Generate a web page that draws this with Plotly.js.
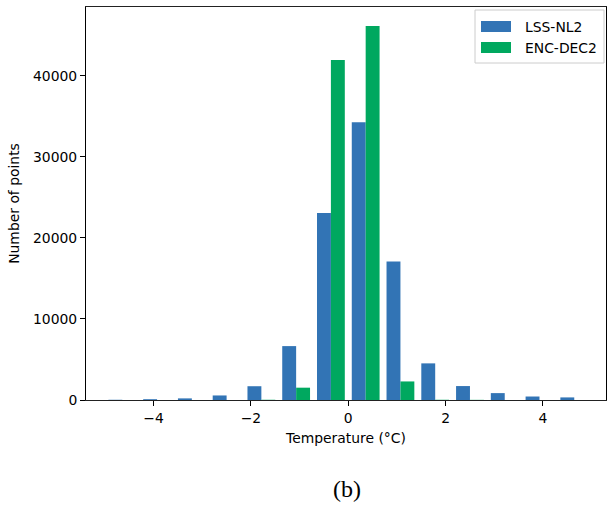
<!DOCTYPE html>
<html>
<head>
<meta charset="utf-8">
<script src="https://cdn.plot.ly/plotly-3.0.1.min.js"></script>
<style>html,body{margin:0;padding:0;background:#fff;}#chart{width:608px;height:507px;}</style>
</head>
<body>
<div id="chart"></div>
<script>
// Histogram bins: 14 equal bins from -5 to 5
var binEdges = [-5, -4.2857, -3.5714, -2.8571, -2.1429, -1.4286, -0.7143, 0, 0.7143, 1.4286, 2.1429, 2.8571, 3.5714, 4.2857, 5];
var seriesNames = ["LSS-NL2", "ENC-DEC2"];
var lssNL2 = [30, 100, 200, 560, 1700, 6650, 23080, 34280, 17100, 4520, 1720, 850, 430, 320];
var encDEC2 = [0, 0, 0, 0, 30, 1520, 41940, 46140, 2290, 30, 20, 0, 0, 0];
var xTicks = [-4, -2, 0, 2, 4];
var yTicks = [0, 10000, 20000, 30000, 40000];
var colors = ["#3274b5", "#00a85f"];

var binCenters = [];
for (var i = 0; i < binEdges.length - 1; i++) binCenters.push((binEdges[i] + binEdges[i + 1]) / 2);

var font = {family: "DejaVu Sans", size: 13.9, color: "#000"};

var traces = [
  {type: "bar", x: binCenters, y: lssNL2, name: seriesNames[0], marker: {color: colors[0], line: {width: 0}}, showlegend: false},
  {type: "bar", x: binCenters, y: encDEC2, name: seriesNames[1], marker: {color: colors[1], line: {width: 0}}, showlegend: false}
];

var L = 86, R = 606, T = 7, B = 400;
function px(x) { return (x - L) / (R - L); }
function py(y) { return (B - y) / (B - T); }

var shapes = [
  {type: "rect", xref: "paper", yref: "paper", x0: px(475), x1: px(604), y0: py(63), y1: py(10),
   line: {color: "#cccccc", width: 1}, fillcolor: "rgba(255,255,255,0.8)"},
  {type: "rect", xref: "paper", yref: "paper", x0: px(481), x1: px(511), y0: py(32), y1: py(21),
   line: {width: 0}, fillcolor: colors[0]},
  {type: "rect", xref: "paper", yref: "paper", x0: px(481), x1: px(511), y0: py(53), y1: py(42),
   line: {width: 0}, fillcolor: colors[1]}
];

var annotations = [
  {xref: "paper", yref: "paper", x: px(523), y: py(27), xanchor: "left", yanchor: "middle", text: seriesNames[0], showarrow: false, font: font},
  {xref: "paper", yref: "paper", x: px(523), y: py(48), xanchor: "left", yanchor: "middle", text: seriesNames[1], showarrow: false, font: font},
  {xref: "paper", yref: "paper", x: px(347), y: py(489), xanchor: "center", yanchor: "middle", text: "(b)", showarrow: false,
   font: {family: "Liberation Serif", size: 24, color: "#000"}}
];

var layout = {
  width: 608, height: 507,
  margin: {l: L, r: 608 - R, t: T, b: 507 - B, pad: 0},
  paper_bgcolor: "#fff", plot_bgcolor: "#fff",
  font: font,
  barmode: "group", bargap: 0.2, bargroupgap: 0,
  showlegend: false,
  xaxis: {
    range: [-5.389, 5.295], tickvals: xTicks, ticks: "outside", ticklen: 5, tickwidth: 1, tickcolor: "#000",
    showline: true, linecolor: "#222", linewidth: 1, mirror: true, showgrid: false, zeroline: false,
    tickfont: font,
    title: {text: "Temperature (°C)", font: font, standoff: 8}
  },
  yaxis: {
    range: [0, 48490], tickvals: yTicks, tickformat: "d", ticks: "outside", ticklen: 5, tickwidth: 1, tickcolor: "#000",
    showline: true, linecolor: "#000", linewidth: 1, mirror: true, showgrid: false, zeroline: false,
    tickfont: font,
    title: {text: "Number of points", font: font, standoff: 10}
  },
  shapes: shapes,
  annotations: annotations
};

Plotly.newPlot("chart", traces, layout, {staticPlot: true, displayModeBar: false});
</script>
</body>
</html>
